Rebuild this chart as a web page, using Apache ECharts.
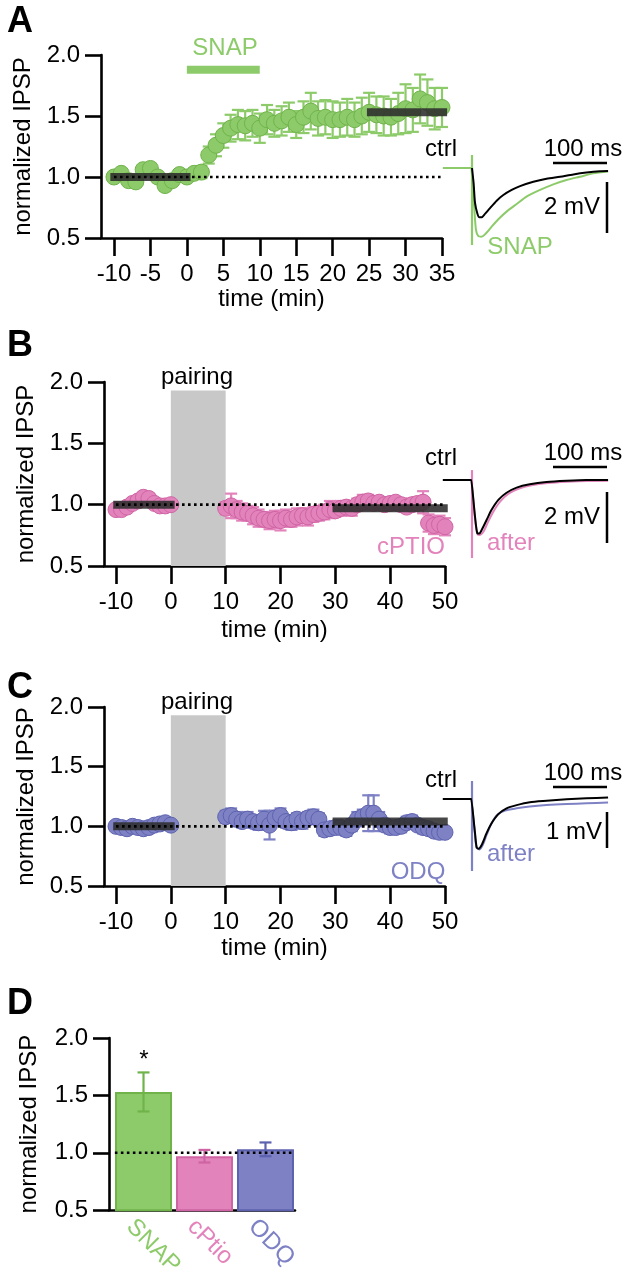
<!DOCTYPE html>
<html><head><meta charset="utf-8">
<script src="https://cdn.jsdelivr.net/npm/echarts@6/dist/echarts.min.js"></script>
<style>html,body{margin:0;padding:0;background:#fff}#c{width:626px;height:1280px}</style>
</head><body><div id="c"></div>
<script>
// ---------- DATA ----------
const timeA = [-10,-9,-8,-7,-6,-5,-4,-3,-2,-1,0,1,2,3,4,5,6,7,8,9,10,11,12,13,14,15,16,17,18,19,20,21,22,23,24,25,26,27,28,29,30,31,32,33,34,35];
const valA = [1.00,1.03,0.97,0.96,1.06,1.07,1.00,0.93,0.97,1.02,1.00,
  1.03,1.04,1.18,1.26,1.34,1.40,1.43,1.42,1.44,1.40,1.47,1.44,1.46,1.49,1.43,1.49,1.54,1.48,1.49,1.47,
  1.47,1.49,1.47,1.50,1.53,1.51,1.50,1.49,1.52,1.56,1.55,1.64,1.61,1.56,1.57];
const errA = [0.02,0.03,0.03,0.04,0.03,0.04,0.03,0.04,0.03,0.03,0.03,
  0.04,0.05,0.07,0.09,0.10,0.11,0.12,0.12,0.11,0.12,0.12,0.11,0.12,0.12,0.11,0.13,0.15,0.14,0.14,0.15,
  0.14,0.15,0.14,0.15,0.16,0.15,0.16,0.15,0.17,0.20,0.18,0.20,0.19,0.17,0.16];
const meanBarsA = [[-10.5,0.5,1.0],[24.7,35.7,1.53]];
const drugBarA = [[0,10,1.88]];
const refLineA = [[-10,1],[35,1]];
const ticksA = [-10,-5,0,5,10,15,20,25,30,35];

const timeBC = [-10,-9,-8,-7,-6,-5,-4,-3,-2,-1,0,10,11,12,13,14,15,16,17,18,19,20,21,22,23,24,25,26,27,28,29,30,31,32,33,34,35,36,37,38,39,40,41,42,43,44,45,46,47,48,49,50];
const valB = [0.96,0.96,0.98,1.01,1.03,1.06,1.05,1.01,0.99,0.99,1.00,
  0.97,0.99,0.96,0.94,0.93,0.91,0.89,0.88,0.87,0.88,0.87,0.89,0.88,0.90,0.91,0.90,0.92,0.93,0.94,0.96,
  0.95,0.97,0.98,0.97,1.00,1.02,1.03,1.01,1.02,1.00,1.01,1.02,1.00,0.98,1.00,1.01,1.02,0.85,0.83,0.84,0.82];
const errB = [0.03,0.03,0.02,0.03,0.04,0.04,0.04,0.03,0.03,0.03,0.03,
  0.05,0.10,0.07,0.07,0.06,0.07,0.07,0.06,0.07,0.07,0.08,0.07,0.06,0.07,0.06,0.07,0.06,0.06,0.06,0.07,
  0.05,0.06,0.05,0.06,0.05,0.06,0.05,0.05,0.04,0.05,0.05,0.04,0.05,0.04,0.05,0.05,0.09,0.07,0.07,0.07,0.07];
const meanBarsB = [[-10.5,0.7,1.0],[29.5,50.5,0.97]];
const valC = [1.00,0.99,0.98,1.00,0.99,0.98,0.99,1.01,1.02,1.03,1.01,
  1.08,1.09,1.06,1.04,1.06,1.04,1.03,1.06,1.01,1.07,1.09,1.04,1.03,1.06,1.04,1.07,1.08,1.06,0.97,0.98,
  0.99,0.99,0.97,1.01,1.06,1.08,1.11,1.11,1.06,1.01,0.99,0.99,1.00,1.03,1.04,1.01,0.99,0.98,0.96,0.95,0.95];
const errC = [0.02,0.02,0.03,0.02,0.03,0.02,0.02,0.03,0.03,0.03,0.02,
  0.05,0.06,0.06,0.05,0.06,0.05,0.06,0.07,0.12,0.06,0.06,0.05,0.06,0.05,0.06,0.05,0.06,0.05,0.05,0.04,
  0.05,0.04,0.05,0.05,0.06,0.06,0.15,0.15,0.06,0.05,0.05,0.04,0.05,0.05,0.05,0.04,0.05,0.04,0.04,0.05,0.04];
const meanBarsC = [[-10.5,0.7,1.0],[29.5,50.5,1.04]];
const pairingBox = [[0,10,0.5,1.93]];
const refLineBC = [[-10,1],[50,1]];
const ticksBC = [-10,0,10,20,30,40,50];

const catsD = ['SNAP','cPtio','ODQ'];
const posD = [0,1,2];
const meanD = [1.53,0.97,1.03];
const semD = [0.17,0.055,0.06];
const refLineD = [[-0.47,1],[2.48,1]];

// traces (time ms, mV)
const ctrlTraceA = [[0,0],[3,-0.6],[5.6,-1.37],[9.9,-1.78],[13.6,-1.93],[17.9,-1.93],[24,-1.80],[33,-1.58],[45.7,-1.28],[58,-1.06],[73.5,-0.86],[89,-0.71],[113.6,-0.54],[138,-0.42],[163,-0.34],[187.7,-0.25],[212,-0.18],[237,-0.13],[252,-0.12]];
const drugTraceA = [[-54,0],[-1,0],[0,0],[4.3,-1.6],[7.4,-2.43],[11.7,-2.67],[17.9,-2.69],[26,-2.56],[36.4,-2.30],[48.8,-2.01],[64,-1.71],[82.7,-1.41],[101,-1.12],[126,-0.86],[150.6,-0.64],[175,-0.47],[200,-0.34],[224.7,-0.21],[252,-0.14]];
const artifactA = [[0,0.51],[0,-3.02]];
const ctrlTraceB = [[-54,0],[-1,0],[0,0],[5.6,-1.44],[9.9,-2.09],[13.6,-2.1],[17.9,-1.96],[27,-1.57],[36,-1.18],[48.8,-0.78],[64,-0.50],[82.7,-0.30],[107,-0.17],[138,-0.08],[175,-0.03],[212,0],[252,0]];
const afterTraceB = [[-54,0],[-1,0],[0,0],[5.6,-1.5],[9.9,-2.12],[13.6,-2.16],[21,-2.03],[30,-1.63],[39.5,-1.24],[52,-0.85],[67,-0.55],[86,-0.35],[110,-0.21],[140.7,-0.12],[177.5,-0.07],[214.7,-0.04],[252,-0.03]];
const artifactB = [[0,0.39],[0,-3.06]];
const ctrlTraceC = [[-54,0],[-1,0],[0,0],[5.6,-0.95],[8.6,-1.34],[12.3,-1.38],[17.9,-1.28],[27,-0.95],[36,-0.68],[48.8,-0.42],[64,-0.26],[82.7,-0.17],[107,-0.09],[138,-0.05],[175,-0.01],[212,0.02],[252,0.04]];
const afterTraceC = [[-54,0],[-1,0],[0,0],[5.6,-1.0],[8.6,-1.36],[14,-1.40],[19.8,-1.28],[27,-1.0],[36,-0.68],[46.9,-0.44],[61,-0.32],[82.7,-0.26],[107,-0.21],[138,-0.17],[175,-0.14],[212,-0.12],[252,-0.10]];
const artifactC = [[0,0.5],[0,-2.0]];
const scaleA = {h:[[150,0.2],[250,0.2]], v:[[250,-0.55],[250,-2.55]]};
const scaleB = {h:[[150,0.51],[250,0.51]], v:[[250,-0.47],[250,-2.47]]};
const scaleC = {h:[[150,0.33],[250,0.33]], v:[[250,-0.36],[250,-1.36]]};

// ---------- STYLE ----------
const FONT = "'Liberation Sans', Arial, Helvetica, sans-serif";
const GREEN='#8dcb6a', GREEN_D='#70b34b', PINK='#e383bb', PINK_D='#cf64a4', BLUE='#7e82c5', BLUE_D='#5d62ae';
const MEANC = 'rgba(45,45,45,0.88)';

const chart = echarts.init(document.getElementById('c'), null, {renderer:'canvas', width:626, height:1280});

function xMain(g, min, max, ticks, gap) {
  return {type:'value', gridIndex:g, min, max,
    axisLine:{show:true, onZero:false, lineStyle:{color:'#000', width:2.6}},
    axisTick:{show:true, length:18, customValues:ticks, lineStyle:{color:'#000', width:2.6}},
    axisLabel:{show:true, customValues:ticks, fontSize:24, color:'#000', fontFamily:FONT, margin:24},
    splitLine:{show:false}, name:'time (min)', nameLocation:'middle', nameGap:gap,
    nameTextStyle:{fontSize:24, color:'#000', fontFamily:FONT}};
}
function yMain(g, gap) {
  return {type:'value', gridIndex:g, min:0.5, max:2.0, interval:0.5,
    axisLine:{show:true, onZero:false, lineStyle:{color:'#000', width:2.6}},
    axisTick:{show:true, length:16, lineStyle:{color:'#000', width:2.6}},
    axisLabel:{fontSize:24, color:'#000', fontFamily:FONT, margin:21, formatter:v=>v.toFixed(1)},
    splitLine:{show:false}, name:'normalized IPSP', nameLocation:'middle', nameGap:gap,
    nameTextStyle:{fontSize:24, color:'#000', fontFamily:FONT}};
}
function hidden(g, min, max) {
  return {type:'value', gridIndex:g, min, max, show:false, splitLine:{show:false}};
}

function errSeries(ai, times, vals, errs, color, capW, z) {
  return {type:'custom', xAxisIndex:ai, yAxisIndex:ai, z, clip:false,
    data: times.map((t,i)=>[t, vals[i], errs[i]]),
    encode:{x:0, y:1},
    renderItem:(p, api)=>{
      const x=api.value(0), y=api.value(1), e=api.value(2);
      const a=api.coord([x,y+e]), b=api.coord([x,y-e]);
      const st={stroke:color, lineWidth:2.2};
      return {type:'group', children:[
        {type:'line', shape:{x1:a[0],y1:a[1],x2:b[0],y2:b[1]}, style:st},
        {type:'line', shape:{x1:a[0]-capW/2,y1:a[1],x2:a[0]+capW/2,y2:a[1]}, style:st},
        {type:'line', shape:{x1:b[0]-capW/2,y1:b[1],x2:b[0]+capW/2,y2:b[1]}, style:st}]};
    }};
}
function scatterSeries(ai, times, vals, fill, stroke) {
  return {type:'scatter', xAxisIndex:ai, yAxisIndex:ai, z:3, clip:false, symbol:'circle', symbolSize:16,
    itemStyle:{color:fill, borderColor:stroke, borderWidth:1, opacity:1},
    data: times.map((t,i)=>[t, vals[i]]), silent:true};
}
function hbarSeries(ai, data, color, w, z) {
  return {type:'custom', xAxisIndex:ai, yAxisIndex:ai, z, clip:false, data, encode:{x:[0,1], y:2},
    renderItem:(p, api)=>{
      const a=api.coord([api.value(0), api.value(2)]), b=api.coord([api.value(1), api.value(2)]);
      return {type:'line', shape:{x1:a[0],y1:a[1],x2:b[0],y2:b[1]}, style:{stroke:color, lineWidth:w}};
    }};
}
function boxSeries(ai, data) {
  return {type:'custom', xAxisIndex:ai, yAxisIndex:ai, z:1, data, encode:{x:[0,1], y:[2,3]},
    renderItem:(p, api)=>{
      const a=api.coord([api.value(0), api.value(3)]), b=api.coord([api.value(1), api.value(2)]);
      return {type:'rect', shape:{x:a[0], y:a[1], width:b[0]-a[0], height:b[1]-a[1]}, style:{fill:'#c8c8c8'}};
    }};
}
function dotted(ai, data) {
  return {type:'line', xAxisIndex:ai, yAxisIndex:ai, z:6, data, symbol:'none', silent:true,
    lineStyle:{color:'#000', width:2.6, type:[2.6,3.4]}};
}
function trace(ai, data, color, w, z) {
  return {type:'line', xAxisIndex:ai, yAxisIndex:ai, z, data, symbol:'none', silent:true, smooth:0.25,
    lineStyle:{color, width:w}};
}
function straight(ai, data, color, w, z) {
  return {type:'line', xAxisIndex:ai, yAxisIndex:ai, z, data, symbol:'none', silent:true,
    lineStyle:{color, width:w}};
}

const series = [
  // A
  errSeries(0, timeA, valA, errA, GREEN, 12, 2),
  scatterSeries(0, timeA, valA, GREEN, GREEN_D),
  hbarSeries(0, meanBarsA, MEANC, 8, 4),
  hbarSeries(0, drugBarA, GREEN, 8, 4),
  dotted(0, refLineA),
  // B
  boxSeries(1, pairingBox),
  errSeries(1, timeBC, valB, errB, PINK, 12, 2),
  scatterSeries(1, timeBC, valB, PINK, PINK_D),
  hbarSeries(1, meanBarsB, MEANC, 8, 4),
  dotted(1, refLineBC),
  // C
  boxSeries(2, pairingBox),
  errSeries(2, timeBC, valC, errC, BLUE, 12, 2),
  scatterSeries(2, timeBC, valC, BLUE, BLUE_D),
  hbarSeries(2, meanBarsC, MEANC, 8, 4),
  dotted(2, refLineBC),
  // D
  {type:'bar', xAxisIndex:3, yAxisIndex:3, barWidth:57, z:2,
    data: posD.map((x,i)=>({value:[x, meanD[i]], itemStyle:{color:[GREEN,PINK,BLUE][i], borderColor:[GREEN_D,PINK_D,BLUE_D][i], borderWidth:2}}))},
  {type:'custom', xAxisIndex:3, yAxisIndex:3, z:3, data: posD.map((x,i)=>[x, meanD[i], semD[i], i]), encode:{x:0,y:1},
    renderItem:(p, api)=>{
      const x=api.value(0), y=api.value(1), e=api.value(2), c=[GREEN_D,PINK_D,BLUE_D][api.value(3)];
      const a=api.coord([x,y+e]), b=api.coord([x,y-e]); const st={stroke:c, lineWidth:2.2};
      return {type:'group', children:[
        {type:'line', shape:{x1:a[0],y1:a[1],x2:b[0],y2:b[1]}, style:st},
        {type:'line', shape:{x1:a[0]-6,y1:a[1],x2:a[0]+6,y2:a[1]}, style:st},
        {type:'line', shape:{x1:b[0]-6,y1:b[1],x2:b[0]+6,y2:b[1]}, style:st}]};
    }},
  dotted(3, refLineD),
  // traces A
  straight(4, artifactA, GREEN, 2.2, 2),
  trace(4, drugTraceA, GREEN, 2, 3),
  trace(4, ctrlTraceA, '#000', 2, 4),
  straight(4, scaleA.h, '#000', 2.5, 5),
  straight(4, scaleA.v, '#000', 2.5, 5),
  // traces B
  straight(5, artifactB, PINK, 2.2, 2),
  trace(5, afterTraceB, PINK, 2, 3),
  trace(5, ctrlTraceB, '#000', 2, 4),
  straight(5, scaleB.h, '#000', 2.5, 5),
  straight(5, scaleB.v, '#000', 2.5, 5),
  // traces C
  straight(6, artifactC, BLUE, 2.2, 2),
  trace(6, afterTraceC, BLUE, 2, 3),
  trace(6, ctrlTraceC, '#000', 2, 4),
  straight(6, scaleC.h, '#000', 2.5, 5),
  straight(6, scaleC.v, '#000', 2.5, 5)
];

function txt(text, x, y, opts) {
  opts = opts || {};
  return {type:'text', x, y, z:100, style:{text, fill:opts.color||'#000',
    font:(opts.bold?'bold ':'')+(opts.size||23)+'px '+FONT, align:opts.align||'center', verticalAlign:'middle'}};
}

const option = {
  animation:false,
  backgroundColor:'#fff',
  grid:[
    {left:101, top:55, width:341, height:183},
    {left:104, top:382, width:341, height:184},
    {left:104, top:707, width:341, height:179},
    {left:109, top:1038, width:186, height:182},
    {left:439.6, top:130, width:172.8, height:125},
    {left:439.6, top:440, width:172.8, height:125},
    {left:439.6, top:760, width:172.8, height:125}
  ],
  xAxis:[
    xMain(0, -11.78, 35, ticksA, 48),
    xMain(1, -12.19, 50, ticksBC, 52),
    xMain(2, -12.19, 50, ticksBC, 50),
    {type:'value', gridIndex:3, min:-0.566, max:2.484,
      axisLine:{show:true, onZero:false, lineStyle:{color:'#000', width:2.6}},
      axisTick:{show:false}, splitLine:{show:false},
      axisLabel:{show:true, customValues:posD.map(v=>v-0.22), rotate:-45, margin:13, fontSize:24, fontFamily:FONT,
        formatter:v=>{const i=Math.round(v+0.22); return '{c'+i+'|'+catsD[i]+'}';},
        rich:{c0:{color:GREEN, fontSize:24, fontFamily:FONT}, c1:{color:PINK, fontSize:24, fontFamily:FONT}, c2:{color:BLUE, fontSize:24, fontFamily:FONT}}}},
    hidden(4, -60, 260), hidden(5, -60, 260), hidden(6, -60, 260)
  ],
  yAxis:[
    yMain(0, 63), yMain(1, 64), yMain(2, 64), yMain(3, 68),
    hidden(4, -3.41, 1.49), hidden(5, -3.333, 1.569), hidden(6, -2.389, 1.083)
  ],
  graphic:[
    txt('A', 20, 22, {bold:true, size:36}),
    txt('B', 20, 346, {bold:true, size:36}),
    txt('C', 20, 688, {bold:true, size:36}),
    txt('D', 20, 1004, {bold:true, size:36}),
    txt('SNAP', 225, 48, {color:GREEN, size:24}),
    txt('ctrl', 441, 149, {size:24}),
    txt('100 ms', 583, 149, {size:24}),
    txt('2 mV', 572, 207, {size:24}),
    txt('SNAP', 520, 247, {color:GREEN, size:24}),
    txt('pairing', 197, 377, {size:24}),
    txt('ctrl', 441, 458, {size:24}),
    txt('100 ms', 583, 453, {size:24}),
    txt('2 mV', 572, 517, {size:24}),
    txt('after', 511, 543, {color:PINK, size:24}),
    txt('cPTIO', 411, 547, {color:PINK, size:24}),
    txt('pairing', 197, 702, {size:24}),
    txt('ctrl', 441, 780, {size:24}),
    txt('100 ms', 583, 773, {size:24}),
    txt('1 mV', 574, 832, {size:24}),
    txt('after', 511, 854, {color:BLUE, size:24}),
    txt('ODQ', 418, 872, {color:BLUE, size:24}),
    txt('*', 144, 1060, {size:24})
  ],
  series
};
chart.setOption(option);
</script></body></html>
